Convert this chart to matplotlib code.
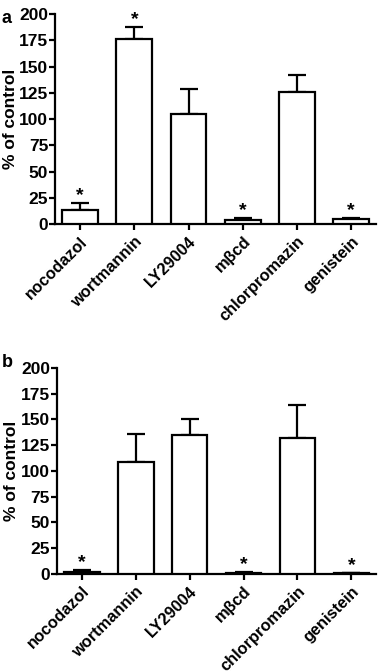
import numpy as np
import matplotlib.pyplot as plt

plt.rcParams['font.family'] = ['Liberation Sans', 'DejaVu Sans']
plt.rcParams['font.weight'] = 'bold'

labels = ["nocodazol", "wortmannin", "LY29004", "m\u03b2cd", "chlorpromazin", "genistein"]

vals_a = [13, 176, 105, 4, 126, 5]
err_a = [7, 12, 24, 2, 16, 0.5]
star_a = [True, True, False, True, False, True]

vals_b = [2, 109, 135, 1, 132, 0.5]
err_b = [1.5, 27, 15, 0.5, 32, 0.3]
star_b = [True, False, False, True, False, True]

fig = plt.figure(figsize=(3.8, 6.71), dpi=100)
ax_a = fig.add_axes([0.145, 0.666, 0.845, 0.313])
ax_b = fig.add_axes([0.150, 0.1446, 0.840, 0.307])


def panel(ax, vals, err, stars):
    x = np.arange(len(vals))
    ax.bar(x, vals, width=0.66, color='white', edgecolor='black', linewidth=1.6, zorder=3)
    ax.errorbar(x, vals, yerr=[np.zeros(len(err)), err], fmt='none', ecolor='black',
                elinewidth=1.6, capsize=6.5, capthick=1.6, zorder=2)
    for xi, v, e, s in zip(x, vals, err, stars):
        if s:
            ax.text(xi, v + e - 1, '*', ha='center', va='bottom', fontsize=14, fontweight='bold')
    ax.set_xlim(-0.46, 5.46)
    ax.set_ylim(0, 200)
    ax.set_yticks(np.arange(0, 201, 25))
    ax.set_xticks(x)
    ax.set_xticklabels(labels, rotation=45, ha='right', rotation_mode='anchor', fontsize=11.8)
    ax.tick_params(axis='y', labelsize=12.5, width=1.6, length=4, pad=1)
    ax.tick_params(axis='x', width=1.6, length=4, pad=3)
    for s in ['top', 'right']:
        ax.spines[s].set_visible(False)
    for s in ['left', 'bottom']:
        ax.spines[s].set_linewidth(1.6)
    ax.set_ylabel('% of control', fontsize=12.5, fontweight='bold', labelpad=1)


panel(ax_a, vals_a, err_a, star_a)
panel(ax_b, vals_b, err_b, star_b)

fig.text(0.005, 0.985, 'a', fontsize=13, fontweight='bold', va='top')
fig.text(0.005, 0.472, 'b', fontsize=13, fontweight='bold', va='top')

fig.savefig('out.png', dpi=100)
